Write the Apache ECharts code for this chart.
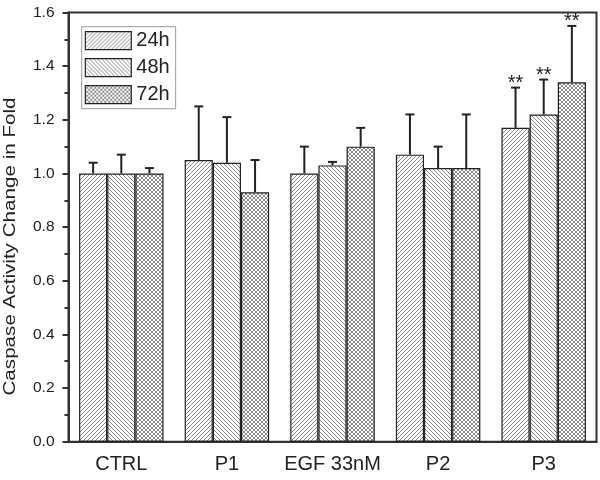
<!DOCTYPE html>
<html>
<head>
<meta charset="utf-8">
<script src="https://cdn.jsdelivr.net/npm/echarts@6/dist/echarts.min.js"></script>
<style>html,body{margin:0;padding:0;background:#fff}#c{width:600px;height:480px}</style>
</head>
<body>
<div id="c"></div>
<script>
const categories = ['CTRL', 'P1', 'EGF 33nM', 'P2', 'P3'];
const seriesNames = ['24h', '48h', '72h'];
const v24 = [1.00, 1.05, 1.00, 1.07, 1.17];
const v48 = [1.00, 1.04, 1.03, 1.02, 1.22];
const v72 = [1.00, 0.93, 1.10, 1.02, 1.34];
const e24 = [0.04, 0.20, 0.10, 0.15, 0.15];
const e48 = [0.07, 0.17, 0.013, 0.08, 0.13];
const e72 = [0.02, 0.12, 0.07, 0.20, 0.21];
const sig24 = ['', '', '', '', '**'];
const sig48 = ['', '', '', '', '**'];
const sig72 = ['', '', '', '', '**'];
const yTicks = [0, 0.2, 0.4, 0.6, 0.8, 1.0, 1.2, 1.4, 1.6];
const yTitle = 'Caspase Activity Change in Fold';

const FONT = 'Liberation Sans, Arial, sans-serif';

function tile(kind) {
  const c = document.createElement('canvas');
  c.width = 4; c.height = 4;
  const g = c.getContext('2d');
  g.fillStyle = '#fff'; g.fillRect(0, 0, 4, 4);
  g.fillStyle = '#8c8c8c';
  for (let i = 0; i < 4; i++) {
    if (kind === 'fwd' || kind === 'x') g.fillRect(i, 3 - i, 1, 1);
    if (kind === 'back' || kind === 'x') g.fillRect(i, i, 1, 1);
  }
  return { image: c, repeat: 'repeat' };
}
const fills = [tile('fwd'), tile('back'), tile('x')];
const values = [v24, v48, v72];
const errs = [e24, e48, e72];
const sigs = [sig24, sig48, sig72];

const barSeries = seriesNames.map((n, k) => ({
  name: n,
  type: 'bar',
  data: values[k],
  barGap: '0%',
  barCategoryGap: '20%',
  itemStyle: { color: fills[k], borderColor: '#222', borderWidth: 1.2 },
  emphasis: { disabled: true },
  z: 2
}));

const errSeries = seriesNames.map((n, k) => ({
  type: 'custom',
  name: n + ' err',
  z: 5,
  silent: true,
  data: values[k].map((v, i) => [i, v, errs[k][i]]),
  encode: { x: 0, y: 1 },
  renderItem: function (params, api) {
    const i = api.value(0), v = api.value(1), e = api.value(2);
    const band = api.size([1, 0])[0];
    const bw = band * 0.8 / 3;
    const base = api.coord([i, v]);
    const top = api.coord([i, v + e]);
    const x = base[0] + (k - 1) * bw;
    const children = [
      { type: 'line', shape: { x1: x, y1: base[1], x2: x, y2: top[1] }, style: { stroke: '#222', lineWidth: 2 } },
      { type: 'line', shape: { x1: x - 4.5, y1: top[1], x2: x + 4.5, y2: top[1] }, style: { stroke: '#222', lineWidth: 2 } }
    ];
    const s = sigs[k][params.dataIndex];
    if (s) {
      children.push({ type: 'text', x: x, y: top[1] - 4,
        style: { text: s, font: '20px ' + FONT, fill: '#222', align: 'center', verticalAlign: 'middle' } });
    }
    return { type: 'group', children: children };
  }
}));

const chart = echarts.init(document.getElementById('c'), null, { renderer: 'canvas' });
chart.setOption({
  animation: false,
  backgroundColor: '#fff',
  grid: { left: 68.5, right: 3.5, top: 12.5, bottom: 38.3, show: true, borderColor: '#333', borderWidth: 2, backgroundColor: 'transparent' },
  legend: {
    orient: 'vertical', left: 81.7, top: 26.7,
    data: seriesNames,
    icon: 'rect',
    itemWidth: 46, itemHeight: 18, itemGap: 7,
    padding: [4, 6, 4, 3],
    borderColor: '#999', borderWidth: 1,
    itemStyle: { borderColor: '#222', borderWidth: 1.2 },
    textStyle: { fontSize: 20, fontFamily: FONT, color: '#222' },
    selectedMode: false
  },
  xAxis: [{
    type: 'category', data: categories,
    axisLine: { lineStyle: { color: '#333', width: 2 } },
    axisTick: { alignWithLabel: true, length: 8, lineStyle: { color: '#333', width: 2 } },
    axisLabel: { fontSize: 20, fontFamily: FONT, color: '#222', margin: 13, interval: 0, hideOverlap: false },
    splitLine: { show: false }
  }, {
    type: 'category', data: categories, position: 'bottom', gridIndex: 0,
    axisLine: { show: false },
    axisTick: { alignWithLabel: false, interval: 0, length: 4, lineStyle: { color: '#333', width: 2 } },
    axisLabel: { show: false },
    splitLine: { show: false }
  }],
  yAxis: {
    type: 'value', min: yTicks[0], max: yTicks[yTicks.length - 1], interval: 0.2,
    axisLine: { show: true, lineStyle: { color: '#333', width: 2 } },
    axisTick: { show: true, length: 6, lineStyle: { color: '#333', width: 2 } },
    minorTick: { show: true, splitNumber: 2, length: 4, lineStyle: { color: '#333', width: 2 } },
    axisLabel: { fontSize: 15.5, fontFamily: FONT, color: '#222', margin: 14, formatter: v => v.toFixed(1) },
    splitLine: { show: false }
  },
  graphic: [{
    type: 'text', x: 10, y: 246.5, rotation: Math.PI / 2, scaleX: 1.25,
    style: { text: yTitle, font: '16.5px ' + FONT, fill: '#222', align: 'center', verticalAlign: 'middle' }
  }],
  series: barSeries.concat(errSeries)
});
</script>
</body>
</html>
